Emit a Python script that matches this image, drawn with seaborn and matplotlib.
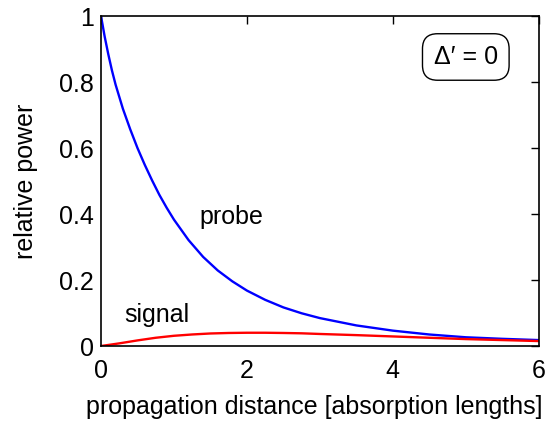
import matplotlib
matplotlib.use("Agg")
import matplotlib.pyplot as plt
import seaborn as sns
import pandas as pd

# Data
probe_x = [0, 0.05, 0.1, 0.15, 0.2, 0.3, 0.4, 0.5, 0.6, 0.7, 0.8, 0.9, 1.0, 1.2, 1.4, 1.6,
           1.8, 2.0, 2.25, 2.5, 2.75, 3.0, 3.5, 4.0, 4.5, 5.0, 5.5, 6.0]
probe_y = [1.0, 0.938, 0.884, 0.835, 0.792, 0.719, 0.657, 0.600, 0.549, 0.502, 0.458, 0.419,
           0.383, 0.321, 0.270, 0.229, 0.196, 0.168, 0.140, 0.117, 0.0992, 0.0846, 0.0624,
           0.0466, 0.0349, 0.0265, 0.0218, 0.018]
signal_x = [0, 0.25, 0.5, 0.75, 1.0, 1.25, 1.5, 1.75, 2.0, 2.25, 2.5, 2.75, 3.0, 3.5,
            4.0, 4.5, 5.0, 5.5, 6.0]
signal_y = [0.0, 0.008, 0.017, 0.025, 0.031, 0.035, 0.038, 0.0395, 0.0402, 0.0402, 0.0395,
            0.0385, 0.0365, 0.033, 0.029, 0.025, 0.021, 0.018, 0.015]
x_ticks = [0, 2, 4, 6]
y_ticks = [0, 0.2, 0.4, 0.6, 0.8, 1]
y_ticklabels = ["0", "0.2", "0.4", "0.6", "0.8", "1"]

sns.set_style("white")
plt.rcParams["font.family"] = ["Liberation Sans", "DejaVu Sans"]
plt.rcParams["text.color"] = "black"
plt.rcParams["axes.labelcolor"] = "black"

fig = plt.figure(figsize=(5.52, 4.23), dpi=100)
ax = fig.add_axes([0.183, 0.182, 0.793, 0.780])

df_p = pd.DataFrame({"x": probe_x, "y": probe_y})
df_s = pd.DataFrame({"x": signal_x, "y": signal_y})
sns.lineplot(data=df_p, x="x", y="y", ax=ax, color="#0000ff", linewidth=1.7, estimator=None, sort=False)
sns.lineplot(data=df_s, x="x", y="y", ax=ax, color="#ff0000", linewidth=1.7, estimator=None, sort=False)

ax.set_xlim(0, 6)
ax.set_ylim(0, 1)
ax.set_xticks(x_ticks)
ax.set_xticklabels([str(t) for t in x_ticks])
ax.set_yticks(y_ticks)
ax.set_yticklabels(y_ticklabels)
ax.tick_params(direction="in", length=6, width=1, top=True, right=True,
               labelsize=18, color="black", labelcolor="black")
ax.tick_params(axis="x", pad=9)
ax.tick_params(axis="y", pad=5)
for s in ax.spines.values():
    s.set_visible(True)
    s.set_color("black")
    s.set_linewidth(1.2)

ax.set_xlabel("propagation distance [absorption lengths]", fontsize=18)
ax.xaxis.set_label_coords(0.488, -0.185, transform=ax.transAxes)
ax.xaxis.label.set_va("center")
ax.set_ylabel("relative power", fontsize=18)
ax.yaxis.set_label_coords(-0.171, 0.5, transform=ax.transAxes)
ax.yaxis.label.set_va("center")

ax.text(1.79, 0.39, "probe", fontsize=18, ha="center", va="center")
ax.text(0.77, 0.094, "signal", fontsize=18, ha="center", va="center")
ax.text(5.0, 0.876, "Δ′ = 0", fontsize=18, ha="center", va="center",
        bbox=dict(boxstyle="round,pad=0.45,rounding_size=0.6", fc="white", ec="black", lw=1))

fig.savefig("out.png", dpi=100)
